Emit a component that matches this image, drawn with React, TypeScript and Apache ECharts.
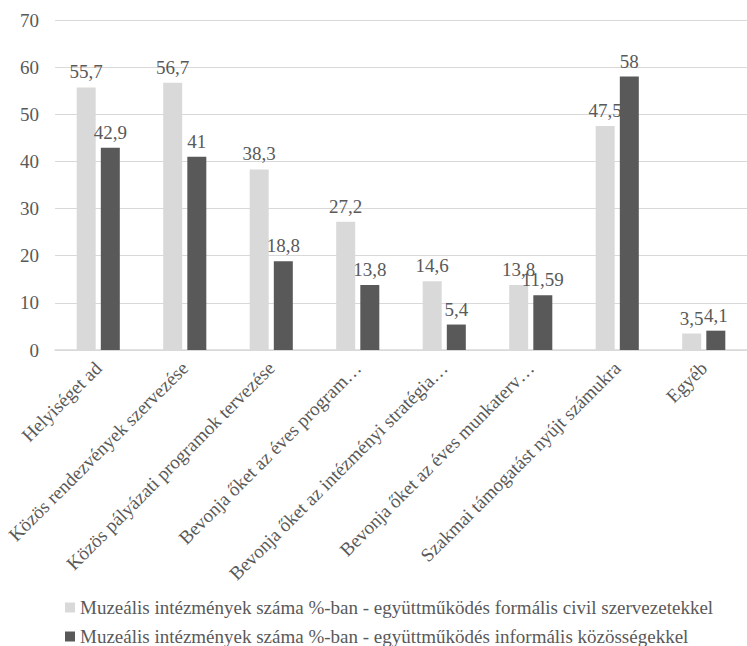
import React, { useEffect, useRef } from "react";
import * as echarts from "echarts";

const categories = [
  "Helyiséget ad",
  "Közös rendezvények szervezése",
  "Közös pályázati programok tervezése",
  "Bevonja őket az éves program…",
  "Bevonja őket az intézményi stratégia…",
  "Bevonja őket az éves munkaterv…",
  "Szakmai támogatást nyújt számukra",
  "Egyéb",
];
const seriesFormal = [55.7, 56.7, 38.3, 27.2, 14.6, 13.8, 47.5, 3.5];
const seriesInformal = [42.9, 41, 18.8, 13.8, 5.4, 11.59, 58, 4.1];
const seriesNames = [
  "Muzeális intézmények száma %-ban - együttműködés formális civil szervezetekkel",
  "Muzeális intézmények száma %-ban - együttműködés informális közösségekkel",
];
const yTicks = { min: 0, max: 70, interval: 10 };

const FONT = "Liberation Serif";
const TEXT = "#595959";

export default function App() {
  const ref = useRef<HTMLDivElement>(null);
  useEffect(() => {
    if (!ref.current) return;
    const chart = echarts.init(ref.current, undefined, { renderer: "svg" });
    const fmt = (p: any) => String(p.value).replace(".", ",");
    const legendText = { fontFamily: FONT, fontSize: 19, lineHeight: 17, color: TEXT };
    chart.setOption({
      animation: false,
      textStyle: { fontFamily: FONT, color: TEXT },
      grid: { left: 55, top: 20, width: 696, height: 330, containLabel: false },
      legend: [
        {
          left: 60,
          top: 593,
          itemWidth: 10,
          itemHeight: 10,
          icon: "rect",
          textStyle: legendText,
          data: [seriesNames[0]],
        },
        {
          left: 60,
          top: 622,
          itemWidth: 10,
          itemHeight: 10,
          icon: "rect",
          textStyle: legendText,
          data: [seriesNames[1]],
        },
      ],
      xAxis: {
        type: "category",
        data: categories,
        axisLine: { lineStyle: { color: "#d9d9d9", width: 1.5 } },
        axisTick: { show: false },
        axisLabel: {
          rotate: 45,
          interval: 0,
          fontFamily: FONT,
          fontSize: 19,
          color: TEXT,
          margin: 15,
        },
      },
      yAxis: {
        type: "value",
        min: yTicks.min,
        max: yTicks.max,
        interval: yTicks.interval,
        axisLine: { show: false },
        axisTick: { show: false },
        splitLine: { lineStyle: { color: "#d9d9d9", width: 1 } },
        axisLabel: { fontFamily: FONT, fontSize: 19, color: TEXT, margin: 16 },
      },
      series: [
        {
          name: seriesNames[0],
          type: "bar",
          data: seriesFormal,
          barWidth: 19,
          barGap: "27%",
          itemStyle: { color: "#d9d9d9" },
          label: { show: true, position: "top", formatter: fmt, fontFamily: FONT, fontSize: 19, color: TEXT, distance: 6 },
        },
        {
          name: seriesNames[1],
          type: "bar",
          data: seriesInformal,
          barWidth: 19,
          itemStyle: { color: "#595959" },
          label: { show: true, position: "top", formatter: fmt, fontFamily: FONT, fontSize: 19, color: TEXT, distance: 6 },
        },
      ],
    });
    return () => chart.dispose();
  }, []);
  return (
    <div
      ref={ref}
      style={{ position: "absolute", left: 0, top: 0, width: 747, height: 646 }}
    />
  );
}
